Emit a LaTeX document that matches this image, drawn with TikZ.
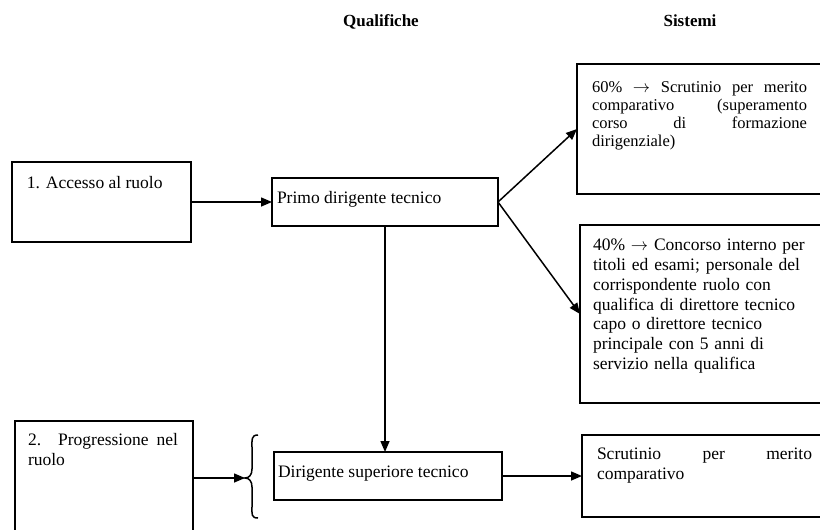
\documentclass[tikz,border=0pt]{standalone}
\usepackage{fontspec}
\setmainfont{Liberation Serif}
\usetikzlibrary{arrows.meta}
\newcommand{\toarrow}{\ensuremath{\rightarrow}}
\begin{document}
\begin{tikzpicture}[x=1pt,y=-1pt,
  box/.style={draw, line width=1.6pt, inner sep=0pt, outer sep=0pt},
  para/.style={inner sep=0pt, outer sep=0pt, anchor=north west},
  oneline/.style={inner sep=0pt, outer sep=0pt, anchor=base west, font=\fontsize{17.5}{20}\selectfont},
  head/.style={inner sep=0pt, anchor=base, font=\fontsize{17}{20}\selectfont\bfseries},
  conn/.style={line width=1.5pt, -{Triangle[length=11pt,width=9pt]}},
]
\useasboundingbox (0,0) rectangle (820,530);
\clip (0,0) rectangle (820,530);

% column headings
\node[head] (hq) at (381,27) {Qualifiche};
\node[head] (hs) at (690,27) {Sistemi};

% boxes
\node[box, minimum width=179pt, minimum height=80pt]  (acc)   at (101.5,202) {};
\node[box, minimum width=226pt, minimum height=48pt]  (primo) at (385,202) {};
\node[box, minimum width=253pt, minimum height=130pt] (s60)   at (703.5,129) {};
\node[box, minimum width=250pt, minimum height=178pt] (s40)   at (705,314) {};
\node[box, minimum width=178pt, minimum height=114pt] (prog)  at (104,478) {};
\node[box, minimum width=228pt, minimum height=48pt]  (dir)   at (388,476) {};
\node[box, minimum width=248pt, minimum height=82pt]  (scr)   at (706,476) {};

% box texts
\node[oneline] (tacc) at (27,188) {1. Accesso al ruolo};
\node[oneline] (tprimo) at (277,203) {Primo dirigente tecnico};
\node[oneline] (tdir) at (278,477) {Dirigente superiore tecnico};
\node[para, text width=215pt, align=justify, font=\fontsize{16.5}{17.7}\selectfont] (t60) at (592,80.6)
  {\strut 60\% \toarrow{} Scrutinio per merito\linebreak comparativo (superamento\linebreak corso di formazione\linebreak dirigenziale)};
\node[para, text width=230pt, align=left, font=\fontsize{17.5}{19.7}\selectfont] (t40) at (593,237.2)
  {\strut 40\% \toarrow{} Concorso interno per\\ titoli ed esami; personale del\\ corrispondente ruolo con\\ qualifica di direttore tecnico\\ capo o direttore tecnico\\ principale con 5 anni di\\ servizio nella qualifica};
\node[para, text width=150pt, align=justify, font=\fontsize{17.5}{20}\selectfont] (tprog) at (28,431)
  {\strut 2. Progressione nel\linebreak ruolo};
\node[para, text width=215pt, align=justify, font=\fontsize{17.5}{20}\selectfont] (tscr) at (597,445)
  {\strut Scrutinio per merito\linebreak comparativo};

% brace grouping the second stage
\coordinate (bt) at (245,478);
\draw[line width=1.5pt] (258,435) .. controls (251,435) and (252,440) .. (252,447)
  -- (252,469) .. controls (252,475) and (249,478) .. (bt)
  .. controls (249,478) and (252,481) .. (252,487)
  -- (252,507) .. controls (252,514) and (251,518) .. (258,518);

% connectors
\draw[conn] (acc) -- (primo);
\draw[conn] (primo.east) -- (s60.west);
\draw[conn] (primo.east) -- (s40.west);
\draw[conn] (primo.south) -- (primo.south |- dir.north);
\draw[conn] (prog.east) -- (bt);
\draw[conn] (dir) -- (scr);
\end{tikzpicture}
\end{document}
